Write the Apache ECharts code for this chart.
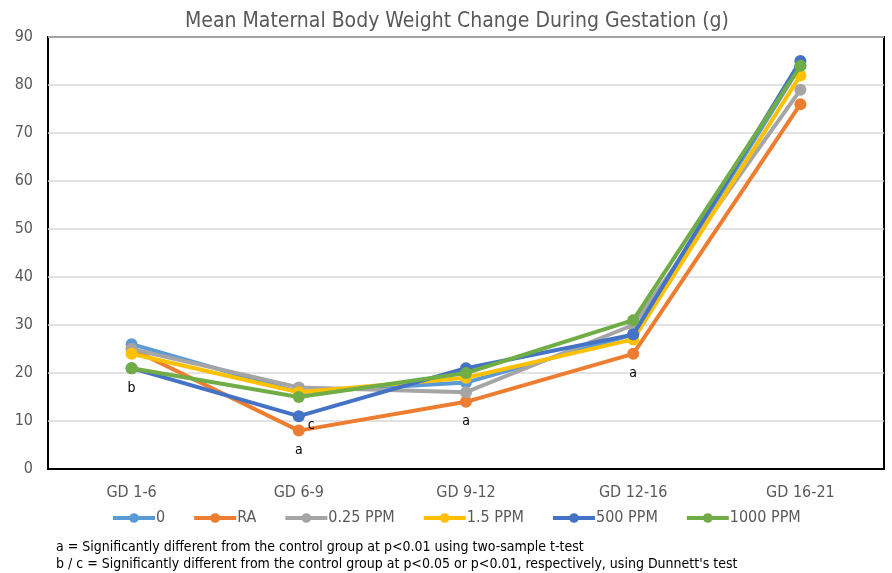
<!DOCTYPE html>
<html>
<head>
<meta charset="utf-8">
<script src="https://cdn.jsdelivr.net/npm/echarts@6/dist/echarts.min.js"></script>
<style>
html,body{margin:0;padding:0;background:#fff;}
#chart{width:892px;height:573px;}
</style>
</head>
<body>
<div id="chart"></div>
<script>
const categories = ['GD 1-6', 'GD 6-9', 'GD 9-12', 'GD 12-16', 'GD 16-21'];
const seriesNames = ['0', 'RA', '0.25 PPM', '1.5 PPM', '500 PPM', '1000 PPM'];
const values0     = [26, 16, 18, 28, 84];
const valuesRA    = [25, 8, 14, 24, 76];
const values025   = [25, 17, 16, 30, 79];
const values15    = [24, 16, 19, 27, 82];
const values500   = [21, 11, 21, 28, 85];
const values1000  = [21, 15, 20, 31, 84];
const yTicks = [0, 10, 20, 30, 40, 50, 60, 70, 80, 90];
const annotations = [
  { series: '1000 PPM', index: 0, text: 'b' },
  { series: 'RA', index: 1, text: 'a' },
  { series: '500 PPM', index: 1, text: 'c' },
  { series: 'RA', index: 2, text: 'a' },
  { series: 'RA', index: 3, text: 'a' }
];
const footnotes = [
  'a = Significantly different from the control group at p<0.01 using two-sample t-test',
  "b / c = Significantly different from the control group at p<0.05 or p<0.01, respectively, using Dunnett's test"
];
const titleText = 'Mean Maternal Body Weight Change During Gestation (g)';

const allValues = [values0, valuesRA, values025, values15, values500, values1000];
const colors = ['#5B9BD5', '#ED7D31', '#A5A5A5', '#FFC000', '#4472C4', '#70AD47'];
const FONT = "'DejaVu Sans Condensed', sans-serif";

const series = seriesNames.map((name, si) => ({
  name: name,
  type: 'line',
  data: allValues[si].map((v, i) => {
    const ann = annotations.find(a => a.series === name && a.index === i);
    if (!ann) return v;
    const isC = ann.text === 'c';
    return {
      value: v,
      label: {
        show: true,
        formatter: ann.text,
        position: isC ? 'right' : 'bottom',
        distance: isC ? 3 : 7,
        offset: isC ? [0, 9] : [0, 0],
        color: '#000',
        fontSize: 14,
        fontFamily: FONT
      }
    };
  }),
  symbol: 'circle',
  symbolSize: 12,
  lineStyle: { width: 4, color: colors[si] },
  itemStyle: { color: colors[si] },
  z: 2 + si
}));

const chart = echarts.init(document.getElementById('chart'), null, { renderer: 'canvas' });
chart.setOption({
  animation: false,
  backgroundColor: '#fff',
  title: {
    text: titleText,
    left: 452,
    textAlign: 'center',
    top: 6,
    textStyle: { color: '#595959', fontSize: 21, fontWeight: 'normal', fontFamily: FONT }
  },
  grid: {
    left: 48, right: 8, top: 37, bottom: 104,
    show: true, borderColor: '#000', borderWidth: 2, backgroundColor: 'transparent'
  },
  legend: {
    data: seriesNames,
    left: 106,
    top: 505,
    itemWidth: 42,
    itemHeight: 12,
    itemGap: 27,
    lineStyle: { width: 4 },
    textStyle: { color: '#595959', fontSize: 16, fontFamily: FONT, padding: [0, 0, 0, -4] }
  },
  xAxis: {
    type: 'category',
    data: categories,
    boundaryGap: true,
    axisLine: { show: true, lineStyle: { color: '#000', width: 2 } },
    axisTick: { show: false },
    axisLabel: { color: '#595959', fontSize: 16, fontFamily: FONT, margin: 16 },
    splitLine: { show: false }
  },
  yAxis: {
    type: 'value',
    min: yTicks[0],
    max: yTicks[yTicks.length - 1],
    interval: yTicks[1] - yTicks[0],
    axisLine: { show: false },
    axisTick: { show: false },
    axisLabel: { color: '#595959', fontSize: 16, fontFamily: FONT, margin: 15 },
    splitLine: { show: true, lineStyle: { color: '#D9D9D9', width: 1.5 } }
  },
  graphic: footnotes.map((t, i) => ({
    type: 'text',
    left: 56,
    top: 540 + i * 17,
    style: { text: t, fill: '#000', font: '14px ' + FONT }
  })),
  series: series
});
</script>
</body>
</html>
